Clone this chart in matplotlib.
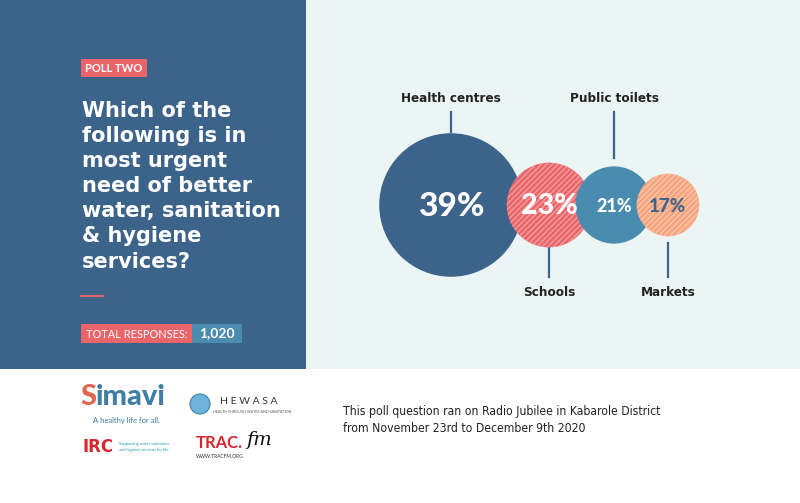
import matplotlib
matplotlib.use("Agg")
import matplotlib.pyplot as plt
import matplotlib.patches as mpatches
from matplotlib import font_manager as fm
from matplotlib.font_manager import FontProperties

# poll data
categories = ["Health centres", "Schools", "Public toilets", "Markets"]
shares = [39, 23, 21, 17]
labels_pct = ["39%", "23%", "21%", "17%"]

question_lines = ["Which of the", "following is in", "most urgent",
                  "need of better", "water, sanitation", "& hygiene", "services?"]
total_responses = "1,020"
footer_lines = ["This poll question ran on Radio Jubilee in Kabarole District",
                "from November 23rd to December 9th 2020"]

# colours
DARK_BLUE = "#3c6389"
MID_BLUE = "#4a8cb0"
RED = "#ea656a"
PEACH = "#f6a47e"
PANEL_BG = "#ebf5f4"
INK = "#222222"

circle_styles = [
    dict(fc=DARK_BLUE, hatch=None, hc=None, txt="white", fs=24),
    dict(fc=RED, hatch="//////", hc="#f29ea1", txt="white", fs=20.5),
    dict(fc=MID_BLUE, hatch=None, hc=None, txt="white", fs=13),
    dict(fc=PEACH, hatch="//////", hc="#fbc7a8", txt=DARK_BLUE, fs=13.5),
]


def weight_num(w):
    table = {"thin": 100, "light": 300, "normal": 400, "regular": 400, "book": 400,
             "medium": 500, "semibold": 600, "demibold": 600, "bold": 700,
             "heavy": 800, "extra bold": 800, "black": 900}
    if isinstance(w, str):
        return table.get(w.lower(), 400)
    return int(w)


HEAVY = FontProperties(family=["DejaVu Sans"], weight="bold")
PCT = FontProperties(family=["Lato", "DejaVu Sans"], weight=900)
LATO = FontProperties(family=["Lato", "DejaVu Sans"])
LATO_B = FontProperties(family=["Lato", "DejaVu Sans"], weight="bold")


# condensed font for labels and the footer, if one is installed
def find_condensed(min_w, max_w):
    for f in fm.fontManager.ttflist:
        key = (f.fname + " " + f.name + " " + str(f.stretch)).lower()
        if ("condensed" in key or "narrow" in key) and "italic" not in key \
                and "oblique" not in key and f.style == "normal":
            if min_w <= weight_num(f.weight) <= max_w:
                return f.fname
    return None


cond_reg = find_condensed(350, 450)
cond_bold = find_condensed(500, 700) or cond_reg
COND = FontProperties(fname=cond_reg) if cond_reg else FontProperties(family=["Roboto", "DejaVu Sans"])
COND_M = FontProperties(fname=cond_bold) if cond_bold else FontProperties(family=["Roboto", "DejaVu Sans"], weight="medium")

fig = plt.figure(figsize=(8, 5.03), dpi=100)
ax = fig.add_axes([0, 0, 1, 1])
ax.set_xlim(0, 800)
ax.set_ylim(503, 0)
ax.axis("off")
renderer = fig.canvas.get_renderer()


def fit_width(txt, target_px):
    bb = txt.get_window_extent(renderer)
    txt.set_fontsize(txt.get_fontsize() * target_px / bb.width)
    return txt.get_fontsize()


# background panels
ax.add_patch(mpatches.Rectangle((0, 0), 306, 369, fc=DARK_BLUE, ec="none", zorder=0))
ax.add_patch(mpatches.Rectangle((306, 0), 494, 369, fc=PANEL_BG, ec="none", zorder=0))

# left panel: poll tag, question, responses
ax.add_patch(mpatches.Rectangle((81, 59), 66, 18, fc=RED, ec="none"))
ax.text(114, 68.5, "POLL TWO", color="white", fontsize=8, fontproperties=LATO_B,
        ha="center", va="center")

# size of the question text set from its widest line
probe = ax.text(0, 0, "water, sanitation", fontproperties=HEAVY, fontsize=14)
q_size = fit_width(probe, 200)
probe.remove()
for i, line in enumerate(question_lines):
    ax.text(82, 117 + 25.1 * i, line, color="white", fontproperties=HEAVY,
            fontsize=q_size, ha="left", va="baseline")

ax.plot([81, 103], [296, 296], color=RED, lw=1.5)

ax.add_patch(mpatches.Rectangle((81, 324), 111, 19, fc=RED, ec="none"))
ax.add_patch(mpatches.Rectangle((192, 324), 50, 19, fc=MID_BLUE, ec="none"))
t = ax.text(86, 334, "TOTAL RESPONSES:", color="white", fontproperties=LATO,
            fontsize=8.5, ha="left", va="center")
fit_width(t, 101)
ax.text(217, 333.5, total_responses, color="white", fontproperties=LATO_B,
        fontsize=10, ha="center", va="center")

# bubbles: radius proportional to share, chained with slight overlap
plt.rcParams["hatch.linewidth"] = 1.0
scale = 1.84
overlap = 16
cy = 205
x = 451
radii = [scale * v for v in shares]
centers = []
for i, r in enumerate(radii):
    if i > 0:
        x = x + radii[i - 1] + r - overlap
    centers.append(x)

probe = ax.text(0, 0, categories[0], fontproperties=COND_M, fontsize=11)
lab_size = fit_width(probe, 100)
probe.remove()

for i, (cx, r, st) in enumerate(zip(centers, radii, circle_styles)):
    ax.add_patch(mpatches.Circle((cx, cy), r, fc=st["fc"], ec="none", zorder=2 + i))
    if st["hatch"]:
        ax.add_patch(mpatches.Circle((cx, cy), r, fc="none", ec=st["hc"], lw=0,
                                     hatch=st["hatch"], zorder=2 + i))
    ax.text(cx, cy + 1, labels_pct[i], color=st["txt"], fontproperties=PCT,
            fontsize=st["fs"], ha="center", va="center", zorder=10)

    # leader lines and category labels, alternating above / below
    if i % 2 == 0:
        ax.plot([cx, cx], [112, cy - r - (1 if i == 0 else 8)], color=DARK_BLUE,
                lw=1.6, zorder=1)
        ax.text(cx, 98, categories[i], color=INK, fontproperties=COND_M,
                fontsize=lab_size, ha="center", va="center")
    else:
        ax.plot([cx, cx], [cy + r + (1 if i == 1 else 7), 277], color=DARK_BLUE,
                lw=1.6, zorder=1)
        ax.text(cx, 292, categories[i], color=INK, fontproperties=COND_M,
                fontsize=lab_size, ha="center", va="center")

# partner logos (approximated as text)
s = ax.text(80, 397, "S", color="#e0664f", fontproperties=PCT, fontsize=21,
            ha="left", va="center")
sx = ax.transData.inverted().transform(s.get_window_extent(renderer))[1][0]
ax.text(sx, 397, "imavi", color="#3f7fa3", fontproperties=PCT, fontsize=21,
        ha="left", va="center")
ax.text(93, 420, "A healthy life for all.", color="#3f7fa3", fontproperties=LATO,
        fontsize=5.5, ha="left", va="center")

ax.add_patch(mpatches.Circle((200, 404), 10, fc="#6fb4de", ec="#3f7fa3", lw=0.8))
ax.text(220, 402, "H E W A S A", color="#333333", fontproperties=LATO, fontsize=7.5,
        ha="left", va="center")
ax.text(213, 412, "HEALTH THROUGH WATER AND SANITATION", color="#555555",
        fontproperties=LATO, fontsize=2.6, ha="left", va="center")

irc = ax.text(83, 447, "IRC", color="#d7262e", fontproperties=HEAVY, fontsize=14,
              ha="left", va="center")
fit_width(irc, 31)
ax.text(119, 444, "Supporting water sanitation", color="#1f9ab2", fontproperties=LATO,
        fontsize=3, ha="left", va="center")
ax.text(119, 450, "and hygiene services for life", color="#1f9ab2", fontproperties=LATO,
        fontsize=3, ha="left", va="center")

tr = ax.text(196, 443, "TRAC.", color="#d7262e", fontproperties=LATO_B, fontsize=12,
             ha="left", va="center")
tx = ax.transData.inverted().transform(tr.get_window_extent(renderer))[1][0]
ax.text(tx + 3, 440, "fm", color="#111111", fontsize=14, style="italic",
        family=["DejaVu Serif"], ha="left", va="center")
ax.text(196, 456, "WWW.TRACFM.ORG", color="#333333", fontproperties=LATO,
        fontsize=3.5, ha="left", va="center")

probe = ax.text(0, 0, footer_lines[0], fontproperties=COND, fontsize=10)
foot_size = fit_width(probe, 318)
probe.remove()
for i, line in enumerate(footer_lines):
    ax.text(343, 411 + 17 * i, line, color=INK, fontproperties=COND,
            fontsize=foot_size, ha="left", va="center")

fig.savefig("out.png", dpi=100)
